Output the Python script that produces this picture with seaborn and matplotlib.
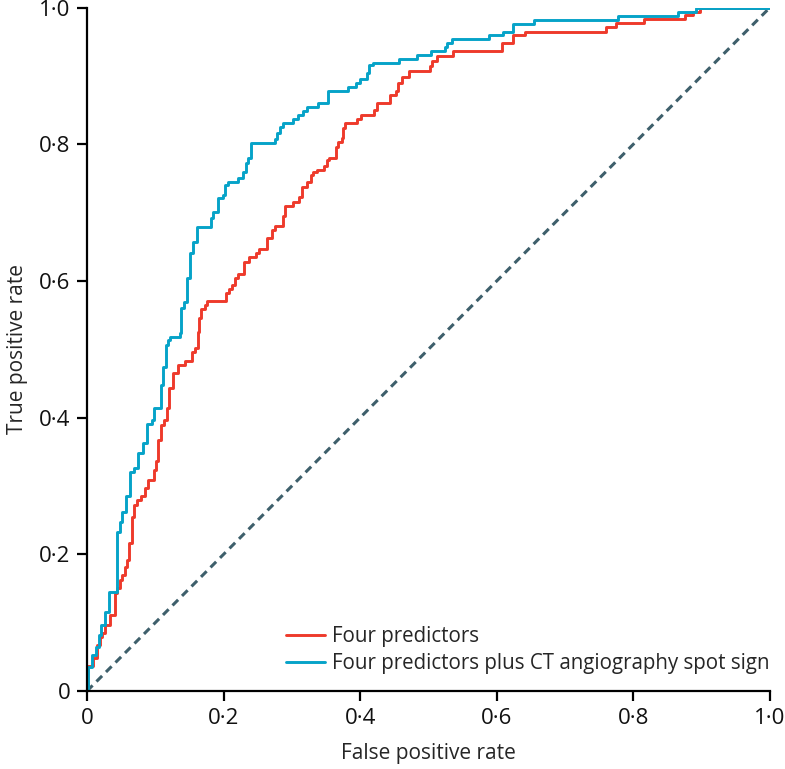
"""ROC curves: four predictors vs four predictors plus CT angiography spot sign."""

import numpy as np
import pandas as pd
import matplotlib
matplotlib.use("Agg")
import matplotlib.pyplot as plt
import seaborn as sns

# ---- data (step corners: x of the rise, y after the rise)
four_fpr = [0.0, 0.0015, 0.0088, 0.0146, 0.0190, 0.0220, 0.0264, 0.0337, 0.0410, 0.0439,
            0.0483, 0.0512, 0.0556, 0.0586, 0.0615, 0.0659, 0.0688, 0.0732, 0.0791, 0.0849,
            0.0893, 0.0981, 0.1010, 0.1040, 0.1083, 0.1127, 0.1171, 0.1201, 0.1259, 0.1332,
            0.1435, 0.1537, 0.1581, 0.1625, 0.1640, 0.1669, 0.1728, 0.1757, 0.2035, 0.2079,
            0.2123, 0.2167, 0.2211, 0.2299, 0.2372, 0.2474, 0.2518, 0.2635, 0.2709, 0.2753,
            0.2870, 0.2899, 0.3016, 0.3104, 0.3148, 0.3221, 0.3280, 0.3309, 0.3367, 0.3470,
            0.3514, 0.3543, 0.3646, 0.3675, 0.3734, 0.3748, 0.3777, 0.3953, 0.4012, 0.4202,
            0.4246, 0.4436, 0.4524, 0.4553, 0.4612, 0.4714, 0.5022, 0.5051, 0.5124, 0.5359,
            0.6076, 0.6237, 0.6413, 0.7599, 0.7745, 0.8155, 0.8755, 0.8873, 0.8975, 1.0]
four_tpr = [0.0, 0.037, 0.048, 0.067, 0.079, 0.085, 0.097, 0.111, 0.143, 0.151,
            0.162, 0.170, 0.181, 0.192, 0.217, 0.255, 0.272, 0.279, 0.285, 0.297,
            0.309, 0.323, 0.337, 0.367, 0.389, 0.396, 0.414, 0.443, 0.465, 0.477,
            0.483, 0.496, 0.502, 0.525, 0.546, 0.559, 0.565, 0.571, 0.582, 0.588,
            0.594, 0.604, 0.610, 0.628, 0.635, 0.641, 0.647, 0.663, 0.674, 0.680,
            0.695, 0.710, 0.715, 0.723, 0.737, 0.745, 0.755, 0.759, 0.762, 0.768,
            0.777, 0.780, 0.796, 0.803, 0.809, 0.824, 0.831, 0.837, 0.843, 0.850,
            0.860, 0.872, 0.878, 0.890, 0.898, 0.907, 0.914, 0.922, 0.929, 0.936,
            0.948, 0.960, 0.964, 0.971, 0.977, 0.983, 0.989, 0.993, 1.0, 1.0]

spot_fpr = [0.0, 0.0015, 0.0073, 0.0132, 0.0176, 0.0205, 0.0264, 0.0322, 0.0439, 0.0483,
            0.0512, 0.0571, 0.0630, 0.0688, 0.0747, 0.0820, 0.0878, 0.0952, 0.0981, 0.1083,
            0.1113, 0.1157, 0.1186, 0.1215, 0.1362, 0.1376, 0.1420, 0.1464, 0.1508, 0.1552,
            0.1611, 0.1816, 0.1845, 0.1918, 0.1991, 0.2020, 0.2064, 0.2211, 0.2284, 0.2328,
            0.2357, 0.2401, 0.2753, 0.2782, 0.2826, 0.2870, 0.3016, 0.3089, 0.3163, 0.3221,
            0.3382, 0.3529, 0.3821, 0.3939, 0.3997, 0.4100, 0.4129, 0.4187, 0.4568, 0.4832,
            0.5037, 0.5242, 0.5271, 0.5344, 0.5886, 0.6091, 0.6237, 0.6545, 0.7775, 0.8653,
            0.8917, 1.0]
spot_tpr = [0.0, 0.035, 0.053, 0.064, 0.082, 0.097, 0.116, 0.145, 0.233, 0.247,
            0.262, 0.285, 0.320, 0.326, 0.348, 0.363, 0.391, 0.396, 0.414, 0.448,
            0.474, 0.506, 0.514, 0.518, 0.524, 0.560, 0.569, 0.604, 0.641, 0.657,
            0.679, 0.692, 0.701, 0.721, 0.726, 0.740, 0.745, 0.751, 0.759, 0.772,
            0.780, 0.802, 0.808, 0.816, 0.825, 0.831, 0.837, 0.843, 0.849, 0.854,
            0.860, 0.878, 0.884, 0.890, 0.895, 0.904, 0.916, 0.919, 0.925, 0.931,
            0.936, 0.942, 0.948, 0.954, 0.960, 0.964, 0.976, 0.982, 0.988, 0.993,
            1.0, 1.0]

chance_fpr = [0.0, 1.0]
chance_tpr = [0.0, 1.0]

labels = ["Four predictors", "Four predictors plus CT angiography spot sign"]
colors = ["#EE3A2B", "#06A3C8"]
ticks = [0.0, 0.2, 0.4, 0.6, 0.8, 1.0]
tick_labels = ["0", "0·2", "0·4", "0·6", "0·8", "1·0"]

roc = pd.concat([
    pd.DataFrame({"fpr": four_fpr, "tpr": four_tpr, "model": labels[0]}),
    pd.DataFrame({"fpr": spot_fpr, "tpr": spot_tpr, "model": labels[1]}),
], ignore_index=True)

sns.set_style("ticks")
plt.rcParams["font.family"] = ["Open Sans", "DejaVu Sans"]

fig = plt.figure(figsize=(7.85, 7.69), dpi=100)
ax = fig.add_axes([0.1108, 0.1014, 0.870, 0.8888])

ax.plot(chance_fpr, chance_tpr, color="#3E5F6B", lw=2.2, ls=(0, (2.6, 1.8)), zorder=1)
sns.lineplot(data=roc, x="fpr", y="tpr", hue="model", palette=colors,
             estimator=None, sort=False, drawstyle="steps-post",
             linewidth=2.1, ax=ax, zorder=2)

ax.set_xlim(0, 1)
ax.set_ylim(0, 1)
ax.set_xticks(ticks)
ax.set_xticklabels(tick_labels)
ax.set_yticks(ticks)
ax.set_yticklabels(tick_labels)
ax.tick_params(axis="both", direction="out", length=7, width=1.6,
               labelsize=16, color="black", labelcolor="#111111", pad=5)
for side in ["left", "bottom"]:
    ax.spines[side].set_linewidth(1.6)
    ax.spines[side].set_color("black")
sns.despine(ax=ax)

ax.set_xlabel("False positive rate", fontsize=15, labelpad=10)
ax.set_ylabel("True positive rate", fontsize=15, labelpad=8)

leg = ax.legend(loc="lower right", bbox_to_anchor=(1.02, 0.004), frameon=False,
                fontsize=14.8, handlelength=1.85, handletextpad=0.35,
                labelspacing=0.27, borderpad=0.2)
for line in leg.get_lines():
    line.set_linewidth(2.1)

fig.savefig("out.png", dpi=100)
